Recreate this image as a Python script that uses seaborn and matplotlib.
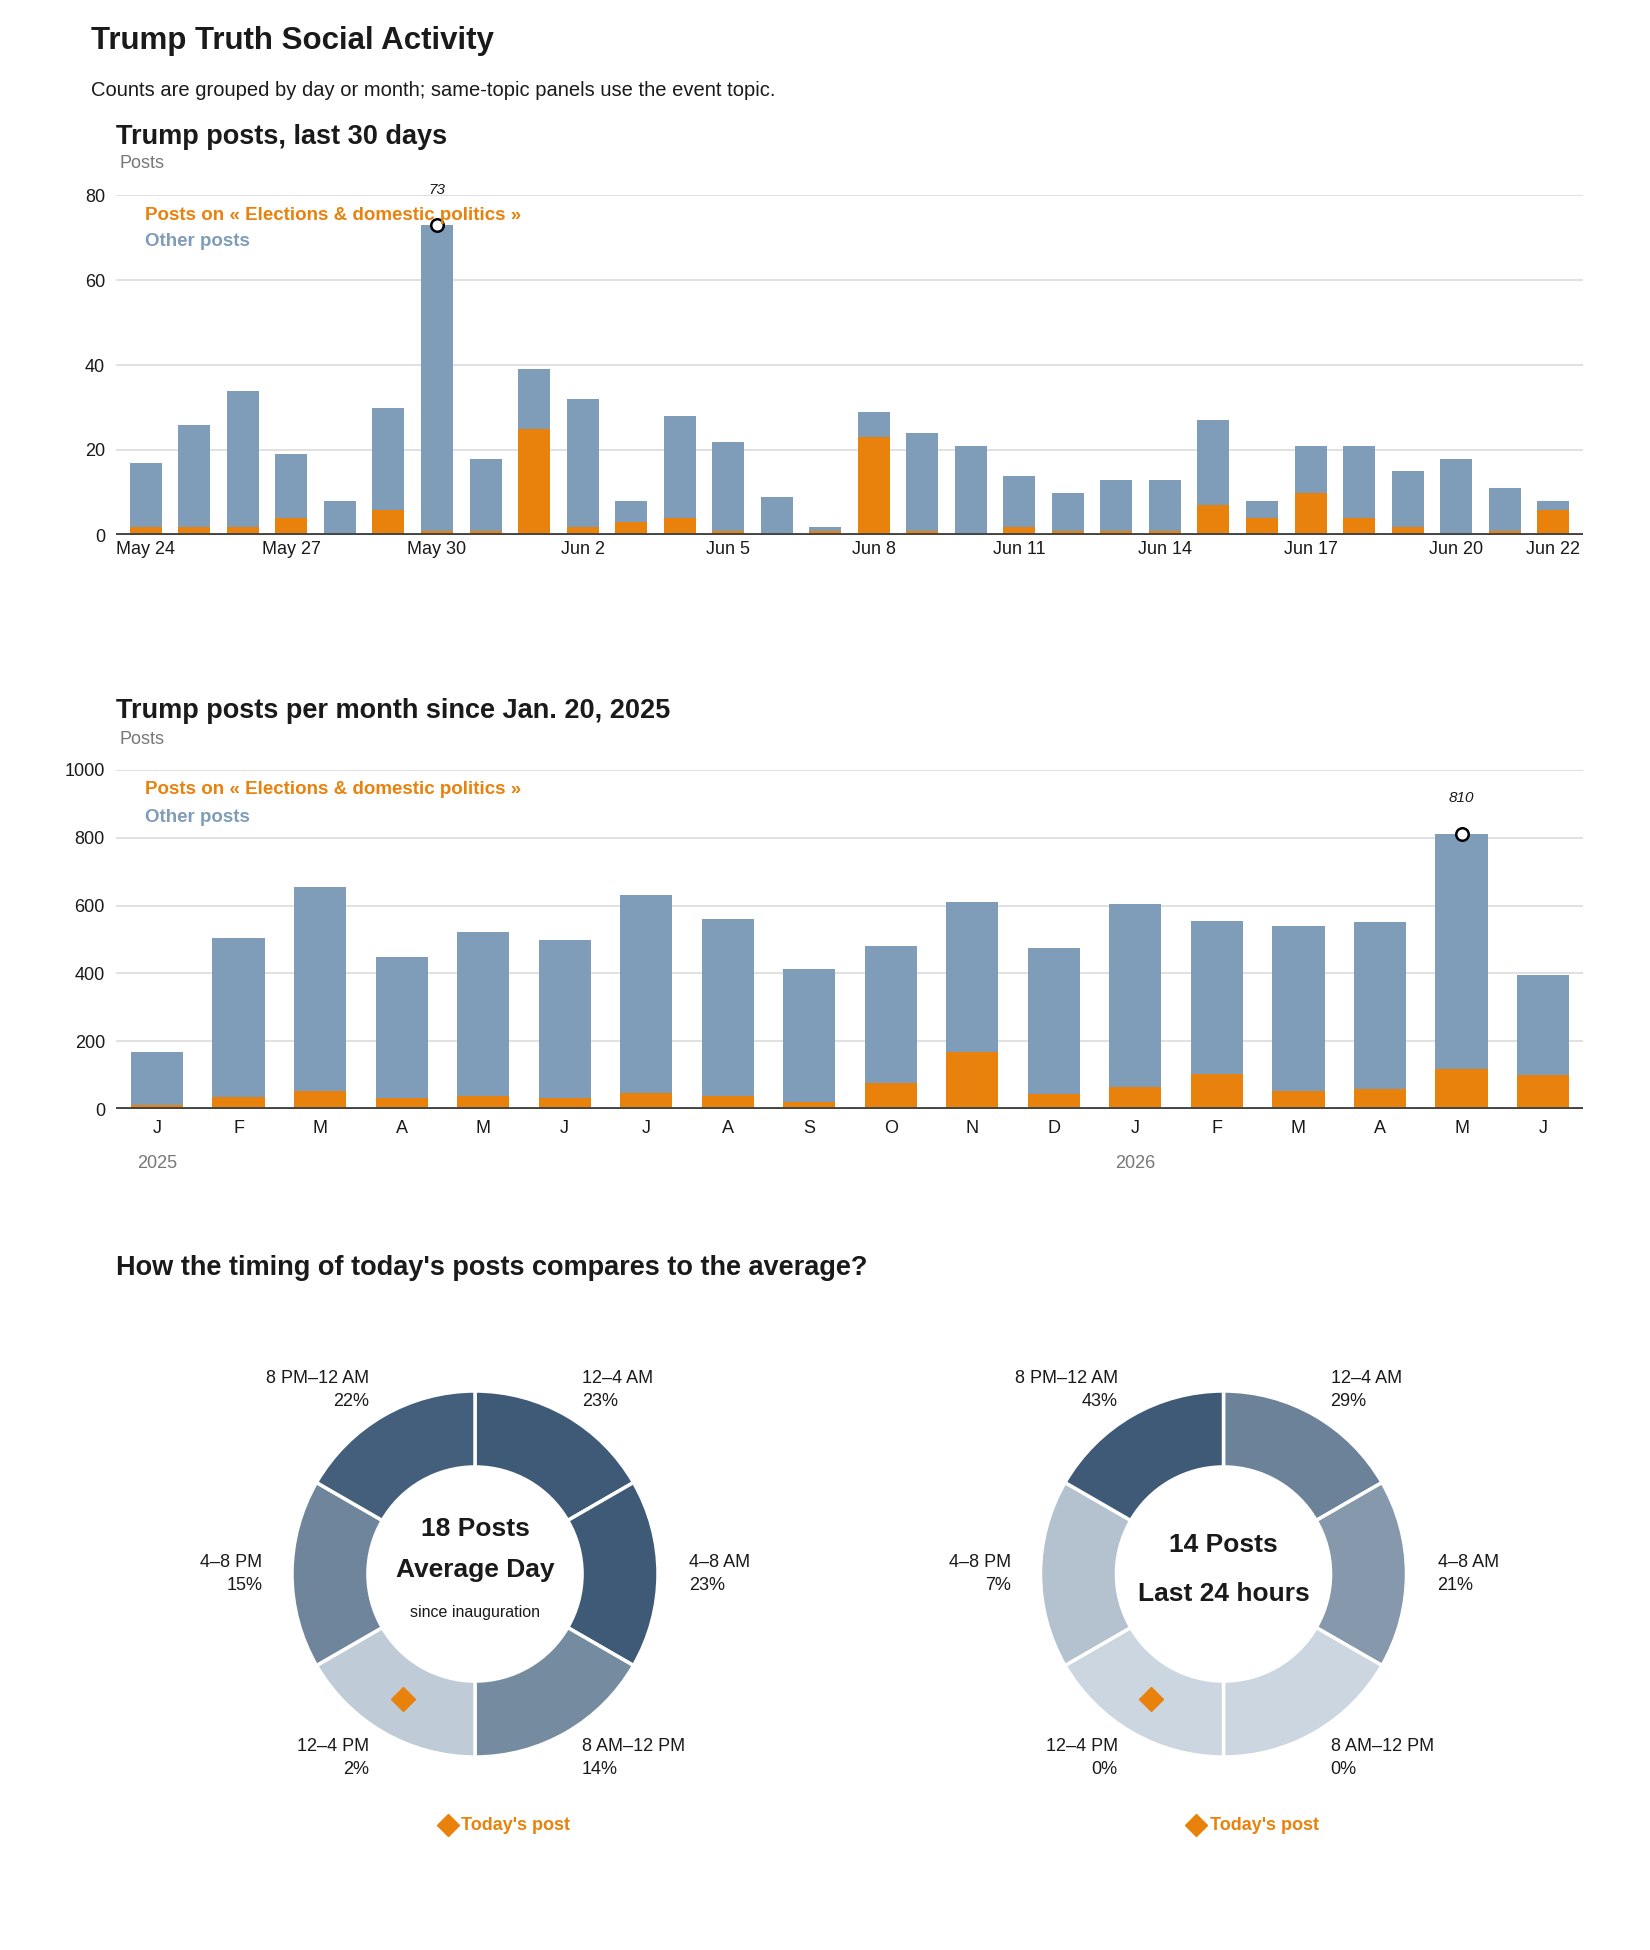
import math
import matplotlib
matplotlib.use('Agg')
import matplotlib.pyplot as plt
import seaborn as sns
import pandas as pd
from matplotlib.colors import LinearSegmentedColormap

# ---- data -----------------------------------------------------------------
days = ['May 24', 'May 25', 'May 26', 'May 27', 'May 28', 'May 29', 'May 30', 'May 31',
        'Jun 1', 'Jun 2', 'Jun 3', 'Jun 4', 'Jun 5', 'Jun 6', 'Jun 7', 'Jun 8', 'Jun 9',
        'Jun 10', 'Jun 11', 'Jun 12', 'Jun 13', 'Jun 14', 'Jun 15', 'Jun 16', 'Jun 17',
        'Jun 18', 'Jun 19', 'Jun 20', 'Jun 21', 'Jun 22']
daily_total = [17, 26, 34, 19, 8, 30, 73, 18, 39, 32, 8, 28, 22, 9, 2,
               29, 24, 21, 14, 10, 13, 13, 27, 8, 21, 21, 15, 18, 11, 8]
daily_topic = [2, 2, 2, 4, 0, 6, 1, 1, 25, 2, 3, 4, 1, 0, 1,
               23, 1, 0, 2, 1, 1, 1, 7, 4, 10, 4, 2, 0, 1, 6]
day_ticks = ['May 24', 'May 27', 'May 30', 'Jun 2', 'Jun 5', 'Jun 8', 'Jun 11',
             'Jun 14', 'Jun 17', 'Jun 20', 'Jun 22']

months = ['2025-01', '2025-02', '2025-03', '2025-04', '2025-05', '2025-06', '2025-07',
          '2025-08', '2025-09', '2025-10', '2025-11', '2025-12', '2026-01', '2026-02',
          '2026-03', '2026-04', '2026-05', '2026-06']
month_letters = ['J', 'F', 'M', 'A', 'M', 'J', 'J', 'A', 'S', 'O', 'N', 'D',
                 'J', 'F', 'M', 'A', 'M', 'J']
monthly_total = [167, 503, 654, 447, 521, 500, 630, 559, 412, 480, 612, 474,
                 606, 556, 539, 551, 810, 394]
monthly_topic = [12, 36, 54, 32, 38, 32, 48, 38, 21, 78, 168, 44,
                 66, 103, 54, 60, 119, 101]

slots = ['12–4 AM', '4–8 AM', '8 AM–12 PM', '12–4 PM', '4–8 PM', '8 PM–12 AM']
slot_hours = [4, 4, 4, 4, 4, 4]
avg_share = [23, 23, 14, 2, 15, 22]
last24_share = [29, 21, 0, 0, 7, 43]
today_slot = '12–4 PM'

ORANGE = '#E8820C'
BLUE = '#7F9DB9'
TEXT = '#1a1a1a'
GRAY = '#777777'

sns.set_theme(style='white')
plt.rcParams['font.family'] = ['Liberation Sans Narrow', 'Liberation Sans', 'DejaVu Sans']
plt.rcParams['axes.unicode_minus'] = False

W, H = 1650, 1950
fig = plt.figure(figsize=(W / 100, H / 100), dpi=100)
fig.patch.set_facecolor('white')


def px_axes(left, top, width, height):
    return fig.add_axes([left / W, 1 - (top + height) / H, width / W, height / H])


def ftext(x, y, s, **kw):
    return fig.text(x / W, 1 - y / H, s, **kw)


def style_bar_axes(ax, ymax, yticks):
    ax.set_ylim(0, ymax)
    ax.set_yticks(yticks)
    ax.set_yticklabels([str(t) for t in yticks], fontsize=13, color=TEXT)
    ax.grid(axis='y', color='#dcdcdc', linewidth=1.2)
    ax.set_axisbelow(True)
    for s in ax.spines.values():
        s.set_visible(False)
    ax.axhline(0, color='#444444', linewidth=2.8, zorder=5)
    ax.tick_params(axis='both', length=0)
    ax.tick_params(axis='y', pad=8)
    ax.set_xlabel('')
    ax.set_ylabel('')


# ---- header ---------------------------------------------------------------
ftext(91, 41, 'Trump Truth Social Activity', fontsize=22.5, fontweight='bold',
      color=TEXT, va='center')
ftext(91, 90, 'Counts are grouped by day or month; same-topic panels use the event topic.',
      fontsize=14.5, color=TEXT, va='center')

# ---- panel 1: daily -------------------------------------------------------
df_day = pd.DataFrame({'day': days, 'total': daily_total, 'topic': daily_topic})
ax1 = px_axes(116, 195, 1467, 340)
sns.barplot(data=df_day, x='day', y='total', color=BLUE, saturation=1, width=0.66,
            linewidth=0, ax=ax1)
sns.barplot(data=df_day, x='day', y='topic', color=ORANGE, saturation=1, width=0.66,
            linewidth=0, ax=ax1)
style_bar_axes(ax1, 80, [0, 20, 40, 60, 80])
ax1.set_xlim(-0.615, len(days) - 1 + 0.615)
ax1.set_xticks([days.index(d) for d in day_ticks])
ax1.set_xticklabels(day_ticks, fontsize=13, color=TEXT)
ax1.tick_params(axis='x', pad=4)
peak = daily_total.index(max(daily_total))
ax1.plot(peak, daily_total[peak], 'o', mfc='white', mec='black', ms=9, mew=1.8,
         zorder=6, clip_on=False)
ax1.annotate(str(daily_total[peak]), xy=(peak, daily_total[peak]), xytext=(0, 25),
             textcoords='offset points', ha='center', va='center', fontsize=11,
             style='italic', color=TEXT, annotation_clip=False)

ftext(116, 137, 'Trump posts, last 30 days', fontsize=19.5, fontweight='bold',
      color=TEXT, va='center')
ftext(119, 164, 'Posts', fontsize=13, color=GRAY, va='center')
ftext(145, 215, 'Posts on « Elections & domestic politics »', fontsize=13.5,
      fontweight='bold', color=ORANGE, va='center')
ftext(145, 242, 'Other posts', fontsize=13.5, fontweight='bold', color=BLUE, va='center')

# ---- panel 2: monthly -----------------------------------------------------
df_mon = pd.DataFrame({'month': months, 'total': monthly_total, 'topic': monthly_topic})
ax2 = px_axes(116, 770, 1467, 339)
sns.barplot(data=df_mon, x='month', y='total', color=BLUE, saturation=1, width=0.64,
            linewidth=0, ax=ax2)
sns.barplot(data=df_mon, x='month', y='topic', color=ORANGE, saturation=1, width=0.64,
            linewidth=0, ax=ax2)
style_bar_axes(ax2, 1000, [0, 200, 400, 600, 800, 1000])
ax2.set_xlim(-0.503, len(months) - 1 + 0.49)
ax2.set_xticks(range(len(months)))
ax2.set_xticklabels(month_letters, fontsize=13, color=TEXT)
ax2.tick_params(axis='x', pad=8)
for i, m in enumerate(months):
    if m.endswith('-01'):
        ax2.annotate(m[:4], xy=(i, 0), xycoords=('data', 'axes fraction'),
                     xytext=(0, -39), textcoords='offset points', ha='center',
                     va='center', fontsize=13, color=GRAY)
peak2 = monthly_total.index(max(monthly_total))
ax2.plot(peak2, monthly_total[peak2], 'o', mfc='white', mec='black', ms=9, mew=1.8,
         zorder=6, clip_on=False)
ax2.annotate(str(monthly_total[peak2]), xy=(peak2, monthly_total[peak2]), xytext=(0, 26),
             textcoords='offset points', ha='center', va='center', fontsize=11,
             style='italic', color=TEXT, annotation_clip=False)

ftext(116, 711, 'Trump posts per month since Jan. 20, 2025', fontsize=19.5,
      fontweight='bold', color=TEXT, va='center')
ftext(119, 739, 'Posts', fontsize=13, color=GRAY, va='center')
ftext(145, 790, 'Posts on « Elections & domestic politics »', fontsize=13.5,
      fontweight='bold', color=ORANGE, va='center')
ftext(145, 817, 'Other posts', fontsize=13.5, fontweight='bold', color=BLUE, va='center')

# ---- panel 3: donuts ------------------------------------------------------
ftext(116, 1268, "How the timing of today's posts compares to the average?", fontsize=19.5,
      fontweight='bold', color=TEXT, va='center')

cmap = LinearSegmentedColormap.from_list('slate', ['#CBD6E0', '#3E5A76'])
label_pos = {
    '12–4 AM': (0.585, 1.007, 'left'),
    '4–8 AM': (1.17, 0.0, 'left'),
    '8 AM–12 PM': (0.585, -1.007, 'left'),
    '12–4 PM': (-0.578, -1.007, 'right'),
    '4–8 PM': (-1.163, 0.0, 'right'),
    '8 PM–12 AM': (-0.578, 1.007, 'right'),
}


def donut(cx, cy, shares, center_lines):
    side = 600
    ax = px_axes(cx - side / 2, cy - side / 2, side, side)
    lim = side / 2 / 183
    top = max(shares)
    cols = [cmap(s / top) for s in shares]
    ax.pie(slot_hours, startangle=90, counterclock=False, colors=cols, radius=1,
           wedgeprops=dict(width=0.415, edgecolor='white', linewidth=2.5))
    ax.set_xlim(-lim, lim)
    ax.set_ylim(-lim, lim)
    ax.set_aspect('equal')
    ax.axis('off')
    for name, share in zip(slots, shares):
        dx, dy, ha = label_pos[name]
        ax.text(dx, dy, f'{name}\n{share}%', ha=ha, va='center', multialignment=ha,
                fontsize=13, color=TEXT, linespacing=1.45)
    # today's post marker sits mid-slice
    k = slots.index(today_slot)
    ang = 90 - 60 * k - 30
    r = 0.79
    ax.plot(r * math.cos(math.radians(ang)), r * math.sin(math.radians(ang)), 'D',
            color=ORANGE, ms=12)
    ax.plot(-0.15, -1.374, 'D', color=ORANGE, ms=11, clip_on=False)
    ax.text(-0.075, -1.374, "Today's post", ha='left', va='center', fontsize=13,
            fontweight='bold', color=ORANGE)
    for txt, y, size, weight in center_lines:
        ax.text(0, y, txt, ha='center', va='center', fontsize=size, fontweight=weight,
                color=TEXT)


donut(475, 1574, avg_share, [('18 Posts', 0.245, 19, 'bold'),
                             ('Average Day', 0.02, 19, 'bold'),
                             ('since inauguration', -0.21, 11.5, 'normal')])
donut(1223.5, 1574, last24_share, [('14 Posts', 0.156, 19, 'bold'),
                                   ('Last 24 hours', -0.109, 19, 'bold')])

fig.savefig('out.png', dpi=100, facecolor='white')
